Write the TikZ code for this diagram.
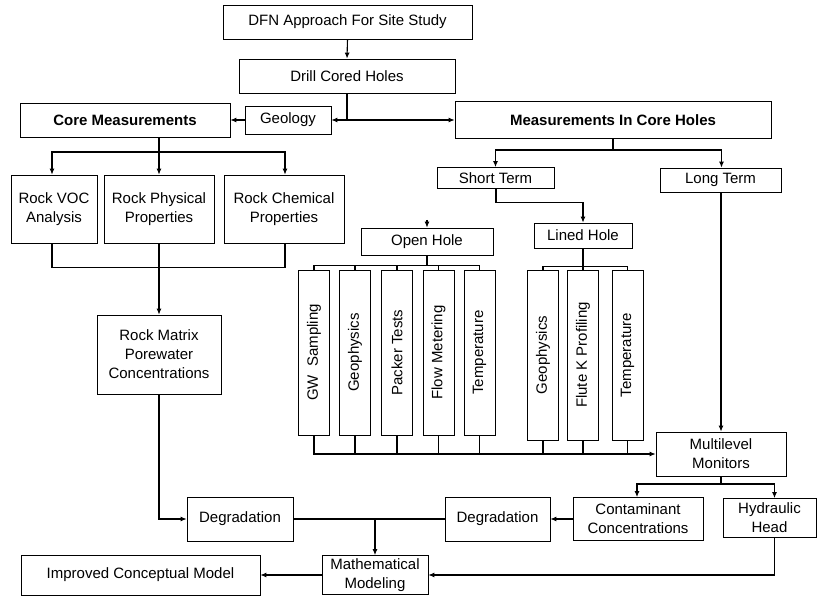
\documentclass[tikz,border=0pt]{standalone}
\usepackage{fontspec}
\setmainfont{Liberation Sans}
\usetikzlibrary{arrows.meta}
\begin{document}
\begin{tikzpicture}[x=1pt,y=-1pt,
  box/.style={draw=black, line width=0.7pt, align=center, inner sep=1pt,
              font=\fontsize{15}{19}\selectfont},
  vbox/.style={box, minimum width=31pt},
  conn/.style={line width=1.1pt},
  arr/.style={conn, -{Latex[length=6pt,width=5pt]}},
]
\useasboundingbox (0,0) rectangle (817,596);
\fill[white] (0,0) rectangle (817,596);

% boxes
\node[box,minimum width=249pt,minimum height=34pt] (dfn) at (347.5,22) {DFN Approach For Site Study};
\node[box,minimum width=216pt,minimum height=34pt] (drill) at (347,76) {Drill Cored Holes};
\node[box,minimum width=210pt,minimum height=34pt] (core) at (125,120) {\textbf{Core Measurements}};
\node[box,minimum width=86pt,minimum height=28pt] (geol) at (288,120) {Geology};
\node[box,minimum width=316pt,minimum height=37pt] (mich) at (613,120) {\textbf{Measurements In Core Holes}};
\node[box,minimum width=86pt,minimum height=68pt] (voc) at (54,209) {Rock VOC\\Analysis};
\node[box,minimum width=110pt,minimum height=68pt] (phys) at (159,209) {Rock Physical\\Properties};
\node[box,minimum width=120pt,minimum height=68pt] (chem) at (284,209) {Rock Chemical\\Properties};
\node[box,minimum width=124pt,minimum height=79pt] (matrix) at (159,354.5) {Rock Matrix\\Porewater\\Concentrations};
\node[box,minimum width=106pt,minimum height=44pt] (deg1) at (240,519) {Degradation};
\node[box,minimum width=105pt,minimum height=44pt] (deg2) at (497.5,519) {Degradation};
\node[box,minimum width=106pt,minimum height=39pt] (math) at (375,575) {Mathematical\\Modeling};
\node[box,minimum width=239pt,minimum height=40pt] (icm) at (140.5,575) {Improved Conceptual Model};
\node[box,minimum width=130pt,minimum height=43pt] (cont) at (638,519) {Contaminant\\Concentrations};
\node[box,minimum width=93pt,minimum height=39pt] (hyd) at (769.5,518) {Hydraulic\\Head};
\node[box,minimum width=130pt,minimum height=44pt] (multi) at (721,454) {Multilevel\\Monitors};
\node[box,minimum width=121pt,minimum height=24pt] (long) at (720.5,180) {Long Term};
\node[box,minimum width=117pt,minimum height=21pt] (short) at (495.5,178) {Short Term};
\node[box,minimum width=98pt,minimum height=25pt] (lined) at (583,235.5) {Lined Hole};
\node[box,minimum width=132pt,minimum height=27pt] (open) at (427,241.5) {Open Hole};

% vertical boxes, open hole
\node[vbox,minimum height=165pt] (gw) at (314,352.5) {\rotatebox{90}{GW\ \ Sampling}};
\node[vbox,minimum height=165pt] (geoa) at (355,352.5) {\rotatebox{90}{Geophysics}};
\node[vbox,minimum height=165pt] (pack) at (397,352.5) {\rotatebox{90}{Packer Tests}};
\node[vbox,minimum height=165pt] (flow) at (438.5,352.5) {\rotatebox{90}{Flow Metering}};
\node[vbox,minimum height=165pt] (tempa) at (479.5,352.5) {\rotatebox{90}{Temperature}};
% vertical boxes, lined hole
\node[vbox,minimum height=170pt] (geob) at (543,355) {\rotatebox{90}{Geophysics}};
\node[vbox,minimum height=170pt] (flute) at (583,355) {\rotatebox{90}{Flute K Profiling}};
\node[vbox,minimum height=170pt] (tempb) at (627.5,355) {\rotatebox{90}{Temperature}};

% connectors top
\draw[arr] (dfn.south) -- (drill.south |- drill.north);
\draw[arr] (drill.south) |- (geol.east);
\draw[arr] (drill.south) |- (mich.west);
\draw[arr] (geol.west) -- (core.east);

\coordinate (cj) at (159,152);
\draw[arr] (phys.north |- core.south) -- (phys.north);
\draw[arr] (cj) -| ([xshift=-2pt]voc.north);
\draw[arr] (cj) -| ([xshift=1pt]chem.north);
\draw[conn] ([xshift=-2pt]voc.south) -- ++(0,24) -| ([xshift=1pt]chem.south);
\draw[arr] (phys.south) -- (matrix.north);
\draw[arr] (matrix.south) |- (deg1.west);
\draw[conn] (deg1.east) -- (deg2.west);
\draw[arr] (deg1.east -| math.north) -- (math.north);
\draw[arr] (cont.west) -- (deg2.east);
\draw[arr] (math.west) -- (icm.east);
\coordinate (hx) at (774.5,537);
\draw[arr] (hx) |- (math.east);

% right side
\coordinate (mj) at (613,150);
\draw[conn] (mich.south -| mj) -- (mj);
\draw[arr] (mj) -| (short.north);
\draw[arr] (mj) -| ([xshift=1pt]long.north);
\draw[arr] ([xshift=0.5pt]short.south) -- ++(0,14) -| (lined.north);
\coordinate (ostub) at (427,220);
\draw[arr] (ostub) -- (open.north);
\draw[arr] ([xshift=0.5pt]long.south) -- ([xshift=0.5pt]long.south |- multi.north);
\coordinate (mm) at (721,484);
\draw[conn] (multi.south) -- (mm);
\draw[arr] (mm) -| ([xshift=-1pt]cont.north);
\draw[arr] (mm) -| (hx |- hyd.north);

% open hole bracket
\draw[conn] (open.south) -- (open.south |- 0,266);
\draw[conn] (gw.north) -- ++(0,-4) -| (tempa.north);
\foreach \n in {geoa,pack,flow} \draw[conn] (\n.north) -- ++(0,-4);
% lined hole bracket
\draw[conn] (lined.south) -- (lined.south |- 0,267);
\draw[conn] (geob.north) -- ++(0,-3) -| (tempb.north);
\draw[conn] (flute.north) -- ++(0,-3);

% collector to multilevel monitors
\draw[arr] (gw.south) |- (multi.west);
\foreach \n in {geoa,pack,flow,tempa,geob,flute,tempb} \draw[conn] (\n.south) -- (\n.south |- multi.west);
\end{tikzpicture}
\end{document}
